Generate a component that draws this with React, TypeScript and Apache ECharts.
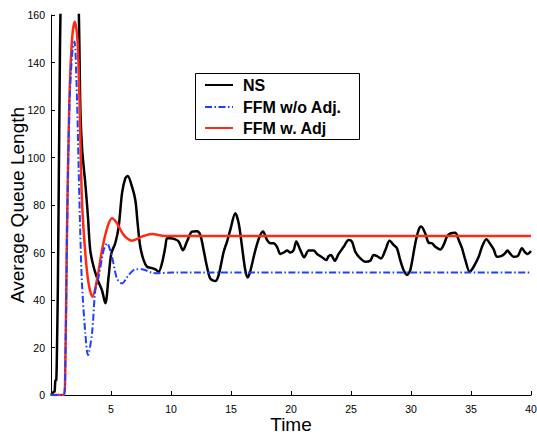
import React, { useEffect, useRef } from "react";
import * as echarts from "echarts";

const nsTime = [0, 0.2, 0.3, 0.36, 0.44, 0.5, 0.57, 0.65, 0.72, 0.8, 1.0, 1.5, 2.0, 2.3, 2.45, 2.6, 2.86, 3.08, 3.27, 3.55, 3.9, 4.25, 4.53, 4.8, 5.03, 5.36, 5.64, 5.92, 6.19, 6.39, 6.75, 7.03, 7.22, 7.44, 7.72, 8.0, 8.42, 8.7, 8.97, 9.25, 9.53, 9.67, 9.94, 10.36, 10.64, 11.0, 11.33, 11.75, 12.17, 12.44, 12.72, 13.0, 13.28, 13.69, 13.97, 14.39, 14.67, 14.94, 15.36, 15.64, 15.92, 16.19, 16.39, 16.6, 17.03, 17.39, 17.67, 18.0, 18.28, 18.56, 18.83, 19.11, 19.39, 19.67, 19.94, 20.22, 20.44, 20.78, 21.1, 21.47, 21.89, 22.17, 22.58, 22.94, 23.14, 23.33, 23.64, 23.97, 24.39, 24.8, 25.08, 25.36, 25.78, 26.19, 26.6, 26.89, 27.17, 27.5, 27.86, 28.22, 28.55, 28.83, 29.1, 29.38, 29.67, 29.94, 30.36, 30.64, 30.85, 31.19, 31.47, 31.75, 32.03, 32.44, 32.72, 33.0, 33.28, 33.69, 33.97, 34.25, 34.53, 34.89, 35.22, 35.64, 35.92, 36.28, 36.6, 36.89, 37.17, 37.5, 37.78, 38.05, 38.28, 38.55, 38.89, 39.25, 39.53, 39.72, 40];
const nsValue = [0, 1.2, 1.5, 6, 6.3, 20, 45, 90, 130, 165, 200, 220, 200, 165, 120, 103, 89, 75, 61, 54, 48.4, 44, 38.6, 49.8, 59.7, 64, 70.9, 85, 91.2, 92.2, 87.7, 82, 72.3, 62.4, 56.8, 54, 53.4, 52.9, 51.9, 55.5, 62.4, 66, 66, 65.5, 64.6, 61, 64.6, 68.8, 69, 67.4, 61, 54, 49, 48, 50.5, 60.3, 64.6, 69.5, 76.5, 72.3, 62.4, 52.6, 49.5, 52, 61, 66.7, 68.8, 65.3, 63.9, 63.9, 62.4, 59.4, 60, 60.8, 60, 61, 64.6, 61, 58, 60.8, 60.8, 59.4, 58, 56.8, 58.5, 59, 56.5, 59.4, 62.4, 65.3, 64.6, 60.3, 57.5, 56.1, 56.5, 59, 58.5, 57.5, 61, 65, 63.2, 61.8, 56.8, 52.6, 50.5, 52.6, 63.9, 69.5, 70.9, 68, 64.1, 63.9, 62.4, 61.3, 63.2, 66.7, 68, 68.3, 65.3, 61.8, 56.8, 51.9, 54, 58.2, 62.4, 65.6, 63.6, 61.3, 58.2, 58.5, 59.4, 60.8, 59.4, 58.2, 58.5, 61.8, 59.9, 59.4, 60.6];

const woTime = [0, 1.05, 1.19, 1.33, 1.53, 1.75, 1.95, 2.17, 2.3, 2.44, 2.58, 2.86, 3.08, 3.42, 3.69, 3.97, 4.39, 4.67, 5.08, 5.5, 5.92, 6.47, 7.03, 7.58, 8.42, 8.97, 10.1, 40];
const woValue = [0, 0, 12, 66, 120, 143, 148.8, 124, 96, 68, 47, 26, 16.8, 26, 44, 49.8, 61, 63.9, 58.2, 49, 47, 50.5, 52.9, 52.9, 51.5, 51.3, 51.6, 51.6];

const wTime = [0, 1.05, 1.19, 1.33, 1.53, 1.75, 1.97, 2.17, 2.3, 2.44, 2.58, 2.86, 3.13, 3.45, 3.83, 4.25, 4.67, 5.08, 5.5, 6.05, 6.75, 7.58, 8.4, 9.5, 10.5, 40];
const wValue = [0, 0, 12, 68, 124, 149.5, 157.2, 152, 138, 110, 82, 59.6, 47, 41.4, 48.4, 61, 70.2, 74.4, 72.3, 67.4, 65, 66.7, 67.8, 67, 67, 67];

const seriesNames = ["NS", "FFM w/o Adj.", "FFM w. Adj"];
const seriesColors = ["#000000", "#1f3fff", "#ff2a12"];
const xTicks = [0, 5, 10, 15, 20, 25, 30, 35, 40];
const yTicks = [0, 20, 40, 60, 80, 100, 120, 140, 160];

const zip = (t: number[], v: number[]) => t.map((x, i) => [x, v[i]]);
const blueDash = [7, 2.5, 1.5, 2.5];

export default function App() {
  const ref = useRef<HTMLDivElement>(null);
  useEffect(() => {
    if (!ref.current) return;
    const chart = echarts.init(ref.current, undefined, { renderer: "svg" });
    const font = "'Liberation Sans', Arial, Helvetica, sans-serif";
    const legendRows = [85, 107, 128];
    const legendEls: any[] = [
      {
        type: "rect",
        shape: { x: 195.5, y: 73.5, width: 164, height: 66 },
        style: { fill: "#fff", stroke: "#000", lineWidth: 1 },
      },
    ];
    seriesNames.forEach((name, i) => {
      legendEls.push({
        type: "line",
        shape: { x1: 205, y1: legendRows[i], x2: 233, y2: legendRows[i] },
        style: {
          stroke: seriesColors[i],
          lineWidth: 2,
          lineDash: i === 1 ? blueDash : null,
        },
      });
      legendEls.push({
        type: "text",
        x: 243,
        y: legendRows[i],
        style: {
          text: name,
          font: `bold 16px ${font}`,
          fill: "#000",
          verticalAlign: "middle",
          align: "left",
        },
      });
    });
    chart.setOption({
      animation: false,
      backgroundColor: "#fff",
      grid: { left: 51, right: 6, top: 15, bottom: 46, containLabel: false, outerBoundsMode: "none" },
      graphic: { elements: [{ type: "group", z: 100, children: legendEls }] },
      xAxis: {
        type: "value",
        min: xTicks[0],
        max: xTicks[xTicks.length - 1],
        interval: 5,
        name: "Time",
        nameLocation: "middle",
        nameGap: 20,
        nameMoveOverlap: false,
        nameTextStyle: { fontFamily: font, fontSize: 19, color: "#000" },
        axisLine: { show: true, lineStyle: { color: "#000", width: 1 } },
        axisTick: { show: true, inside: true, length: 4, lineStyle: { color: "#000" } },
        axisLabel: {
          fontFamily: font,
          fontSize: 10.5,
          color: "#000",
          margin: 8,
          formatter: (v: number) => (v === 0 ? "" : String(v)),
        },
        splitLine: { show: false },
      },
      yAxis: {
        type: "value",
        min: yTicks[0],
        max: yTicks[yTicks.length - 1],
        interval: 20,
        name: "Average Queue Length",
        nameLocation: "middle",
        nameGap: 24,
        nameMoveOverlap: false,
        nameTextStyle: { fontFamily: font, fontSize: 19, color: "#000" },
        axisLine: { show: true, lineStyle: { color: "#000", width: 1 } },
        axisTick: { show: true, inside: true, length: 4, lineStyle: { color: "#000" } },
        axisLabel: { fontFamily: font, fontSize: 10.5, color: "#000", margin: 6 },
        splitLine: { show: false },
      },
      series: [
        {
          name: seriesNames[0],
          type: "line",
          data: zip(nsTime, nsValue),
          symbol: "none",
          smooth: 0.3,
          clip: true,
          color: seriesColors[0],
          lineStyle: { color: seriesColors[0], width: 2.5 },
          z: 2,
        },
        {
          name: seriesNames[2],
          type: "line",
          data: zip(wTime, wValue),
          symbol: "none",
          smooth: 0.3,
          clip: true,
          color: seriesColors[2],
          lineStyle: { color: seriesColors[2], width: 2.5 },
          z: 3,
        },
        {
          name: seriesNames[1],
          type: "line",
          data: zip(woTime, woValue),
          symbol: "none",
          smooth: 0.3,
          clip: true,
          color: seriesColors[1],
          lineStyle: { color: seriesColors[1], width: 2, type: blueDash },
          z: 4,
        },
      ],
    });
    return () => chart.dispose();
  }, []);
  return <div ref={ref} style={{ position: "absolute", left: 0, top: 0, width: 537, height: 441 }} />;
}
